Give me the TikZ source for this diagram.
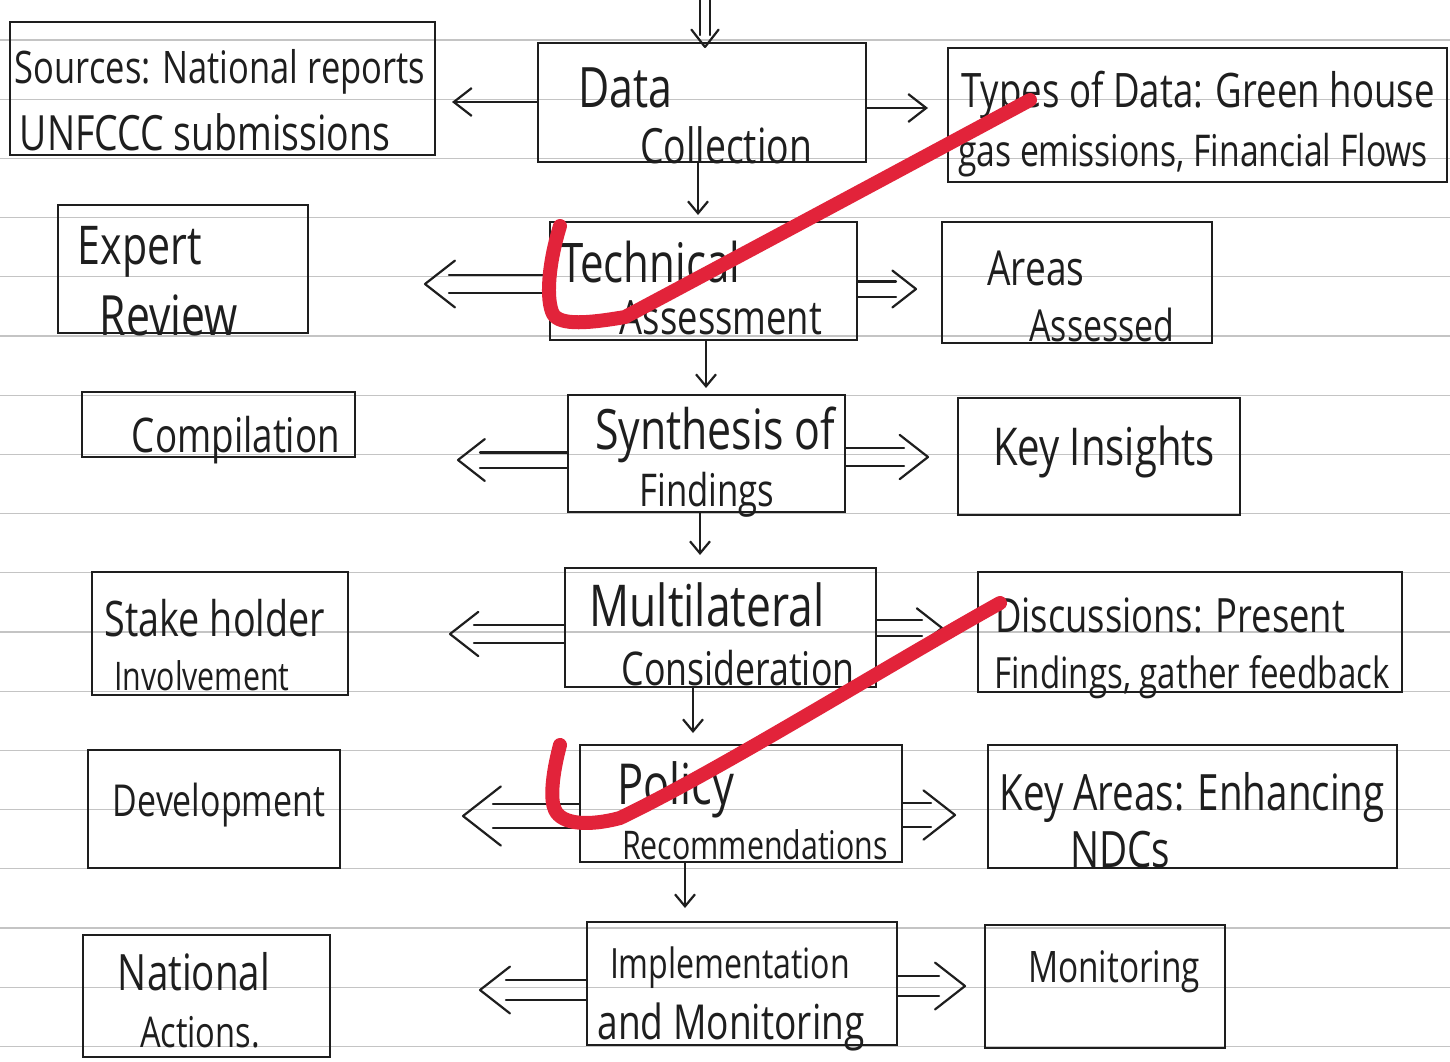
\documentclass[tikz,border=0pt]{standalone}
\usepackage{fontspec}
\setmainfont{Open Sans}
\usepackage{graphicx}
\usetikzlibrary{calc,fit,arrows.meta}
\definecolor{ink}{HTML}{1E1E1E}
\definecolor{rulecol}{HTML}{C4C4C4}
\definecolor{redmark}{HTML}{E2233A}
\newcommand\hw[2]{\resizebox{#1pt}{!}{\scalebox{1}[1.3]{#2}}}
% double arrow: #1 start, #2 tip, #3 half separation, #4 shaft gap before tip, #5 arm length
\newcommand\DblArrow[5]{%
  \coordinate (#2e) at ($(#2)!#4!(#1)$);
  \draw[shaft] ($(#1)!#3!90:(#2)$) -- ($(#2e)!#3!-90:(#1)$);
  \draw[shaft] ($(#1)!#3!-90:(#2)$) -- ($(#2e)!#3!90:(#1)$);
  \draw[shaft] ($(#2)!#5!38:(#1)$) -- (#2) -- ($(#2)!#5!-38:(#1)$);
}
\tikzset{
  box/.style={draw=ink, line width=1.3pt, inner sep=0pt},
  txt/.style={inner sep=0pt, text=ink},
  shaft/.style={draw=ink, line width=1.1pt, line cap=round, line join=round},
  arr/.style={draw=ink, line width=1.1pt, -{Straight Barb[length=9pt,width=14pt]}},
  darr/.style={draw=ink, line width=1.1pt, -{Straight Barb[length=6pt,width=10pt]}},
  ruled/.style={draw=rulecol, line width=0.6pt},
  redmk/.style={draw=redmark, line width=7pt, line cap=round, line join=round},
}
\begin{document}
\begin{tikzpicture}[x=0.5pt,y=-0.5pt]
\useasboundingbox (0,0) rectangle (1450,1061);
\fill[white] (0,0) rectangle (1450,1061);
% ruled paper
\foreach \k in {0,...,17} \draw[ruled] (0,{40+59.2*\k}) -- (1450,{40+59.2*\k});

% boxes
\node[box, fit={(10,22) (435,155)}] (src) {};
\node[box, fit={(538,43) (866,162)}] (dc) {};
\node[box, fit={(948,48) (1447,182)}] (tod) {};
\node[box, fit={(58,205) (308,333)}] (exp) {};
\node[box, fit={(550,222) (857,340)}] (tec) {};
\node[box, fit={(942,222) (1212,343)}] (area) {};
\node[box, fit={(82,392) (355,457)}] (comp) {};
\node[box, fit={(568,395) (845,512)}] (syn) {};
\node[box, fit={(958,398) (1240,515)}] (key) {};
\node[box, fit={(92,572) (348,695)}] (stk) {};
\node[box, fit={(565,568) (876,687)}] (mul) {};
\node[box, fit={(978,572) (1402,692)}] (dis) {};
\node[box, fit={(88,750) (340,868)}] (dev) {};
\node[box, fit={(580,745) (902,862)}] (pol) {};
\node[box, fit={(988,745) (1397,868)}] (kar) {};
\node[box, fit={(83,935) (330,1057)}] (nat) {};
\node[box, fit={(587,922) (897,1045)}] (imp) {};
\node[box, fit={(985,925) (1225,1048)}] (mon) {};

% texts
\node[txt] (src1) at (220,72) {\hw{205}{Sources: National reports}};
\node[txt] (src2) at (205,132) {\hw{185}{UNFCCC submissions}};
\node[txt] (dc1) at (625,88) {\hw{47}{Data}};
\node[txt] (dc2) at (726,145) {\hw{86}{Collection}};
\node[txt] (tod1) at (1198,95) {\hw{236.5}{Types of Data: Green house}};
\node[txt] (tod2) at (1193,155) {\hw{235}{gas emissions, Financial Flows}};
\node[txt] (exp1) at (140,252) {\hw{62}{Expert}};
\node[txt] (exp2) at (169,315) {\hw{69}{Review}};
\node[txt] (tec1) at (650,262) {\hw{90}{Technical}};
\node[txt] (tec2) at (721,318) {\hw{101}{Assessment}};
\node[txt] (area1) at (1036,268) {\hw{48.5}{Areas}};
\node[txt] (area2) at (1102,325) {\hw{72.5}{Assessed}};
\node[txt] (comp1) at (236,440) {\hw{104}{Compilation}};
\node[txt] (syn1) at (715,435) {\hw{120}{Synthesis of}};
\node[txt] (syn2) at (707,495) {\hw{67.5}{Findings}};
\node[txt] (key1) at (1104,452) {\hw{111}{Key Insights}};
\node[txt] (stk1) at (215,618) {\hw{110}{Stake holder}};
\node[txt] (stk2) at (202,676) {\hw{87.5}{Involvement}};
\node[txt] (mul1) at (707,605) {\hw{117.5}{Multilateral}};
\node[txt] (mul2) at (738,668) {\hw{116.5}{Consideration}};
\node[txt] (dis1) at (1170,615) {\hw{175}{Discussions: Present}};
\node[txt] (dis2) at (1192,677) {\hw{197.5}{Findings, gather feedback}};
\node[txt] (dev1) at (219,805) {\hw{106}{Development}};
\node[txt] (pol1) at (676,790) {\hw{58.5}{Policy}};
\node[txt] (pol2) at (755,845) {\hw{133}{Recommendations}};
\node[txt] (kar1) at (1192,797) {\hw{192.5}{Key Areas: Enhancing}};
\node[txt] (kar2) at (1120,850) {\hw{50}{NDCs}};
\node[txt] (nat1) at (194,972) {\hw{76}{National}};
\node[txt] (nat2) at (200,1032) {\hw{60}{Actions.}};
\node[txt] (imp1) at (730,968) {\hw{120}{Implementation}};
\node[txt] (imp2) at (731,1027) {\hw{133.5}{and Monitoring}};
\node[txt] (mon1) at (1114,972) {\hw{86}{Monitoring}};

% arrow end coordinates
\coordinate (T0) at (705,-6);
\coordinate (T1) at (705,47);
\coordinate (L1) at (452,102);
\coordinate (R1) at (928,108);
\coordinate (D1) at (698,215);
\coordinate (L2) at (425,284);
\coordinate (R2) at (916,289);
\coordinate (D2) at (706,388);
\coordinate (L3) at (458,460);
\coordinate (R3) at (928,457);
\coordinate (D3) at (700,555);
\coordinate (L4) at (450,634);
\coordinate (R4) at (942,628);
\coordinate (D4) at (693,733);
\coordinate (L5) at (463,816);
\coordinate (R5) at (955,815);
\coordinate (D5) at (685,908);
\coordinate (L6) at (480,990);
\coordinate (R6) at (965,986);
% start points on boxes
\coordinate (S2l) at (L2 -| tec.west);
\coordinate (S2r) at (R2 -| tec.east);
\coordinate (S3l) at (L3 -| syn.west);
\coordinate (S3r) at (R3 -| syn.east);
\coordinate (S4l) at (L4 -| mul.west);
\coordinate (S4r) at (R4 -| mul.east);
\coordinate (S5l) at (L5 -| pol.west);
\coordinate (S5r) at (R5 -| pol.east);
\coordinate (S6l) at (L6 -| imp.west);
\coordinate (S6r) at (R6 -| imp.east);

% connectors
\DblArrow{T0}{T1}{2.5pt}{6pt}{11pt}
\draw[arr] (L1 -| dc.west) -- (L1);
\draw[arr] (R1 -| dc.east) -- (R1);
\draw[darr] (D1 |- dc.south) -- (D1);
\DblArrow{S2l}{L2}{4.5pt}{12pt}{19pt}
\DblArrow{S2r}{R2}{3.8pt}{10pt}{15pt}
\draw[darr] (D2 |- tec.south) -- (D2);
\DblArrow{S3l}{L3}{3.8pt}{11pt}{17pt}
\DblArrow{S3r}{R3}{4.5pt}{12pt}{18pt}
\draw[darr] (D3 |- syn.south) -- (D3);
\DblArrow{S4l}{L4}{4.5pt}{12pt}{18pt}
\DblArrow{S4r}{R4}{4pt}{10pt}{16pt}
\draw[darr] (D4 |- mul.south) -- (D4);
\DblArrow{S5l}{L5}{6pt}{15pt}{24pt}
\DblArrow{S5r}{R5}{6pt}{12pt}{20pt}
\draw[darr] (D5 |- pol.south) -- (D5);
\DblArrow{S6l}{L6}{5pt}{13pt}{19pt}
\DblArrow{S6r}{R6}{5pt}{13pt}{19pt}

% red check marks
\draw[redmk] (560,226) .. controls (548,265) and (546,300) .. (553,314) .. controls (560,326) and (590,323) .. (625,317) .. controls (760,245) and (900,170) .. (1030,100);
\draw[redmk] (560,745) .. controls (552,775) and (550,800) .. (555,810) .. controls (562,825) and (590,826) .. (620,818) .. controls (720,770) and (880,670) .. (1000,603);
\end{tikzpicture}
\end{document}
